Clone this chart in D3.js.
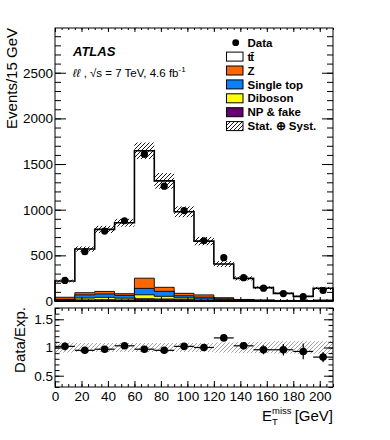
<!DOCTYPE html>
<html>
<head>
<meta charset="utf-8">
<script src="https://cdn.jsdelivr.net/npm/d3@7"></script>
<style>
  body { margin: 0; background: #fff; }
  text { font-family: "Liberation Sans", Arial, sans-serif; }
</style>
</head>
<body>
<div id="chart-area"></div>
<script>
// bins (lower edges, GeV) and a 15 GeV width
var binLow = [0, 15, 30, 45, 60, 75, 90, 105, 120, 135, 150, 165, 180, 195];
var binWidth = 15;

// stacked expectations, events per bin
var ttbar     = [178, 478, 679, 777, 1395, 1166, 893, 589, 369, 231, 135, 78, 47, 129];
var zjets     = [22, 24, 28, 18, 112, 44, 27, 25, 12, 5, 3, 2, 1, 3];
var singleTop = [5, 35, 37, 31, 70, 55, 24, 20, 12, 6, 4, 2, 1, 3];
var diboson   = [6, 20, 26, 19, 43, 29, 18, 12, 6, 3, 2, 1, 1, 2];
var npFake    = [8, 12, 14, 12, 25, 22, 15, 10, 6, 3, 2, 1, 1, 2];

// data + errors
var dataVals = [225, 540, 766, 879, 1608, 1258, 990, 660, 475, 255, 140, 81, 47, 115];
var dataErr  = [15, 23, 28, 30, 40, 35, 31, 26, 22, 16, 12, 9, 7, 10];

// relative stat+syst band on the total, main panel
var mainUnc = [0.07, 0.05, 0.05, 0.05, 0.055, 0.065, 0.06, 0.07, 0.08, 0.09, 0.1, 0.11, 0.12, 0.12];

// ratio panel
var ratioVals = [1.02, 0.95, 0.97, 1.03, 0.97, 0.95, 1.02, 1.0, 1.17, 1.03, 0.96, 0.96, 0.93, 0.83];
var ratioErr  = [0.07, 0.04, 0.036, 0.034, 0.025, 0.027, 0.032, 0.04, 0.054, 0.066, 0.08, 0.1, 0.14, 0.09];
var ratioBand = [0.09, 0.08, 0.08, 0.08, 0.08, 0.08, 0.08, 0.08, 0.09, 0.1, 0.1, 0.11, 0.11, 0.11];

var yTicksMain = [0, 500, 1000, 1500, 2000, 2500];
var yTicksRatio = [0.5, 1, 1.5];
var xTicks = [0, 20, 40, 60, 80, 100, 120, 140, 160, 180, 200];

var seriesKeys = ["npFake", "diboson", "singleTop", "zjets", "ttbar"];
var colors = { ttbar: "#ffffff", zjets: "#ff6600", singleTop: "#0a80ff", diboson: "#ffff00", npFake: "#660070" };

var svg = d3.select("#chart-area").append("svg")
    .attr("width", 390)
    .attr("height", 440);

var defs = svg.append("defs");
function hatch(id, col, w) {
    defs.append("pattern")
        .attr("id", id)
        .attr("patternUnits", "userSpaceOnUse")
        .attr("width", 4).attr("height", 4)
        .append("path")
        .attr("d", "M-1,1 l2,-2 M0,4 l4,-4 M3,5 l2,-2")
        .attr("stroke", col)
        .attr("stroke-width", w);
}
hatch("hatchBlack", "#000", 0.9);
hatch("hatchGrey", "#9a9a9a", 0.9);

var x = d3.scaleLinear().domain([0, 210]).range([55, 333]);
var y = d3.scaleLinear().domain([0, 2990]).range([301, 28]);
var yr = d3.scaleLinear().domain([0.3, 1.7]).range([387, 308]);

// table for the stack
var table = binLow.map(function (lo, i) {
    return { lo: lo, ttbar: ttbar[i], zjets: zjets[i], singleTop: singleTop[i], diboson: diboson[i], npFake: npFake[i] };
});
var stacked = d3.stack().keys(seriesKeys)(table);

var main = svg.append("g");

function stepPts(vals) {
    var pts = vals.map(function (v, i) { return { x: binLow[i], v: v }; });
    pts.push({ x: binLow[binLow.length - 1] + binWidth, v: vals[vals.length - 1] });
    return pts;
}
var area = d3.area()
    .x(function (d) { return x(d.x); })
    .y0(y(0))
    .y1(function (d) { return y(d.v); })
    .curve(d3.curveStepAfter);

// cumulative histograms drawn from top of stack down
for (var k = stacked.length - 1; k >= 0; k--) {
    var layer = stacked[k];
    var cum = layer.map(function (d) { return d[1]; });
    main.append("path")
        .attr("d", area(stepPts(cum)))
        .attr("fill", colors[layer.key])
        .attr("stroke", "#000")
        .attr("stroke-width", layer.key == "ttbar" ? 1.6 : 0.9);
}

var totals = stacked[stacked.length - 1].map(function (d) { return d[1]; });

// hatched uncertainty band
main.selectAll(".band")
    .data(totals)
    .enter().append("rect")
    .attr("x", function (d, i) { return x(binLow[i]); })
    .attr("width", x(binWidth) - x(0))
    .attr("y", function (d, i) { return y(d * (1 + mainUnc[i])); })
    .attr("height", function (d, i) { return y(d * (1 - mainUnc[i])) - y(d * (1 + mainUnc[i])); })
    .attr("fill", "url(#hatchBlack)");

// data
main.selectAll(".derr")
    .data(dataVals)
    .enter().append("line")
    .attr("x1", function (d, i) { return x(binLow[i] + binWidth / 2); })
    .attr("x2", function (d, i) { return x(binLow[i] + binWidth / 2); })
    .attr("y1", function (d, i) { return y(d - dataErr[i]); })
    .attr("y2", function (d, i) { return y(d + dataErr[i]); })
    .attr("stroke", "#000")
    .attr("stroke-width", 1.2);
main.selectAll(".dot")
    .data(dataVals)
    .enter().append("circle")
    .attr("cx", function (d, i) { return x(binLow[i] + binWidth / 2); })
    .attr("cy", function (d) { return y(d); })
    .attr("r", 3.6)
    .attr("fill", "#000");

// ratio panel
var rp = svg.append("g");
rp.selectAll(".rband")
    .data(ratioBand)
    .enter().append("rect")
    .attr("x", function (d, i) { return x(binLow[i]); })
    .attr("width", x(binWidth) - x(0))
    .attr("y", function (d) { return yr(1 + d); })
    .attr("height", function (d) { return yr(1 - d) - yr(1 + d); })
    .attr("fill", "url(#hatchGrey)");
rp.selectAll(".rh")
    .data(ratioVals)
    .enter().append("line")
    .attr("x1", function (d, i) { return x(binLow[i]); })
    .attr("x2", function (d, i) { return x(binLow[i] + binWidth); })
    .attr("y1", function (d) { return yr(d); })
    .attr("y2", function (d) { return yr(d); })
    .attr("stroke", "#000")
    .attr("stroke-width", 1.2);
rp.selectAll(".rv")
    .data(ratioVals)
    .enter().append("line")
    .attr("x1", function (d, i) { return x(binLow[i] + binWidth / 2); })
    .attr("x2", function (d, i) { return x(binLow[i] + binWidth / 2); })
    .attr("y1", function (d, i) { return yr(d - ratioErr[i]); })
    .attr("y2", function (d, i) { return yr(d + ratioErr[i]); })
    .attr("stroke", "#000")
    .attr("stroke-width", 1.2);
rp.selectAll(".rdot")
    .data(ratioVals)
    .enter().append("circle")
    .attr("cx", function (d, i) { return x(binLow[i] + binWidth / 2); })
    .attr("cy", function (d) { return yr(d); })
    .attr("r", 3.8)
    .attr("fill", "#000");

// axes, ROOT style: ticks inside, on all sides
function minorRange(a, b, s) {
    var out = [];
    for (var v = a; v <= b + 1e-9; v += s) out.push(+v.toFixed(3));
    return out;
}
function addAxis(axis, tx, ty, labels) {
    var g = svg.append("g")
        .attr("transform", "translate(" + tx + "," + ty + ")")
        .call(axis);
    g.select(".domain").remove();
    g.selectAll("line").attr("stroke", "#000").attr("stroke-width", 1);
    g.selectAll("text").attr("font-size", "13.5px").attr("fill", "#000")
        .style("font-family", "'Liberation Sans', Arial, sans-serif");
    if (!labels) g.selectAll("text").remove();
    return g;
}

var yMinor = minorRange(0, 2900, 100);
addAxis(d3.axisLeft(y).tickValues(yTicksMain).tickSize(-11).tickPadding(2).tickFormat(d3.format("d")), 55, 0, true);
addAxis(d3.axisLeft(y).tickValues(yMinor).tickSize(-6), 55, 0, false);
addAxis(d3.axisRight(y).tickValues(yTicksMain).tickSize(-11), 333, 0, false);
addAxis(d3.axisRight(y).tickValues(yMinor).tickSize(-6), 333, 0, false);

var xMinor = minorRange(0, 210, 5);
addAxis(d3.axisBottom(x).tickValues(xTicks).tickSize(-4), 0, 301, false);
addAxis(d3.axisBottom(x).tickValues(xMinor).tickSize(-2), 0, 301, false);
addAxis(d3.axisTop(x).tickValues(xTicks).tickSize(-4), 0, 28, false);
addAxis(d3.axisTop(x).tickValues(xMinor).tickSize(-2), 0, 28, false);

var rMinor = minorRange(0.3, 1.7, 0.1);
addAxis(d3.axisLeft(yr).tickValues(yTicksRatio).tickSize(-9).tickPadding(2).tickFormat(d3.format("")), 55, 0, true);
addAxis(d3.axisLeft(yr).tickValues(rMinor).tickSize(-4.5), 55, 0, false);
addAxis(d3.axisRight(yr).tickValues(yTicksRatio).tickSize(-9), 333, 0, false);
addAxis(d3.axisRight(yr).tickValues(rMinor).tickSize(-4.5), 333, 0, false);
addAxis(d3.axisBottom(x).tickValues(xTicks).tickSize(-6).tickPadding(4).tickFormat(d3.format("d")), 0, 387, true);
addAxis(d3.axisBottom(x).tickValues(xMinor).tickSize(-3), 0, 387, false);
addAxis(d3.axisTop(x).tickValues(xTicks).tickSize(-6), 0, 308, false);
addAxis(d3.axisTop(x).tickValues(xMinor).tickSize(-3), 0, 308, false);

// frames
svg.append("rect").attr("x", x(0)).attr("y", y(2990)).attr("width", x(210) - x(0)).attr("height", y(0) - y(2990))
    .attr("fill", "none").attr("stroke", "#000").attr("stroke-width", 1);
svg.append("rect").attr("x", x(0)).attr("y", yr(1.7)).attr("width", x(210) - x(0)).attr("height", yr(0.3) - yr(1.7))
    .attr("fill", "none").attr("stroke", "#000").attr("stroke-width", 1);

// axis titles
svg.append("text")
    .attr("transform", "translate(17,28) rotate(-90)")
    .attr("text-anchor", "end")
    .attr("font-size", "15px")
    .text("Events/15 GeV");
svg.append("text")
    .attr("transform", "translate(25,307) rotate(-90)")
    .attr("text-anchor", "end")
    .attr("font-size", "15px")
    .text("Data/Exp.");

svg.append("text").attr("x", 262).attr("y", 421).attr("font-size", "15px").text("E");
svg.append("text").attr("x", 272).attr("y", 414).attr("font-size", "9.5px").text("miss");
svg.append("text").attr("x", 272).attr("y", 425).attr("font-size", "9.5px").text("T");
svg.append("text").attr("x", 333).attr("y", 421).attr("text-anchor", "end").attr("font-size", "15px").text("[GeV]");

// ATLAS label
svg.append("text")
    .attr("x", 73).attr("y", 56)
    .attr("font-size", "13px")
    .attr("font-weight", "bold")
    .attr("font-style", "italic")
    .text("ATLAS");
var lumi = svg.append("text")
    .attr("x", 73).attr("y", 77)
    .attr("font-size", "11.5px");
lumi.append("tspan").attr("font-style", "italic").text("\u2113\u2113");
lumi.append("tspan").text(" , \u221As = 7 TeV, 4.6 fb");
lumi.append("tspan").attr("font-size", "8px").attr("dy", -5).text("-1");

// legend
var legItems = [
    { key: "data", label: "Data" },
    { key: "ttbar", label: "t t\u0304" },
    { key: "zjets", label: "Z" },
    { key: "singleTop", label: "Single top" },
    { key: "diboson", label: "Diboson" },
    { key: "npFake", label: "NP & fake" },
    { key: "unc", label: "Stat. \u2295 Syst." }
];
var leg = svg.append("g");
legItems.forEach(function (it, i) {
    var cy = 42.7 + i * 13.9;
    if (it.key == "data") {
        leg.append("circle").attr("cx", 235.7).attr("cy", cy).attr("r", 3.4).attr("fill", "#000");
    } else {
        leg.append("rect")
            .attr("x", 226.5).attr("y", cy - 4.5)
            .attr("width", 16.5).attr("height", 9)
            .attr("fill", it.key == "unc" ? "url(#hatchBlack)" : colors[it.key])
            .attr("stroke", "#000").attr("stroke-width", 1);
    }
    leg.append("text")
        .attr("x", 247.5).attr("y", cy)
        .attr("dy", "0.36em")
        .attr("font-size", "11.5px")
        .attr("font-weight", "bold")
        .attr("letter-spacing", it.key == "ttbar" ? "-1px" : null)
        .text(it.label.replace(" t\u0304", "t\u0304"));
});
</script>
</body>
</html>
